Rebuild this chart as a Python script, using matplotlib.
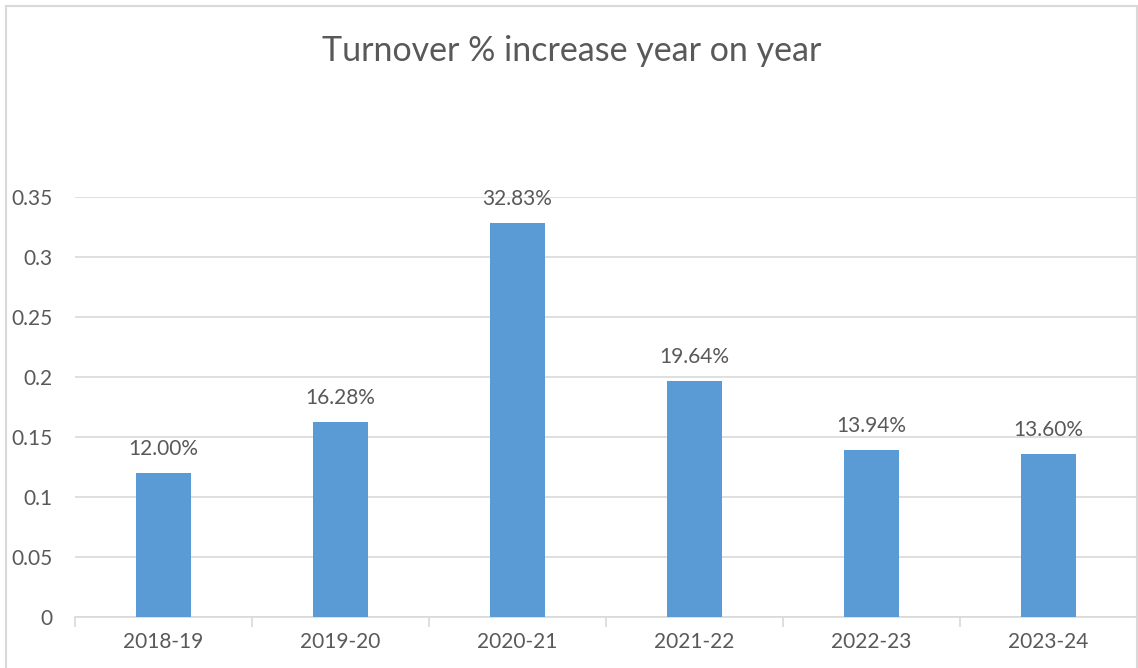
import matplotlib.pyplot as plt

years = ['2018-19', '2019-20', '2020-21', '2021-22', '2022-23', '2023-24']
increase = [0.1200, 0.1628, 0.3283, 0.1964, 0.1394, 0.1360]
yticks = [0, 0.05, 0.1, 0.15, 0.2, 0.25, 0.3, 0.35]
ytick_labels = ['0', '0.05', '0.1', '0.15', '0.2', '0.25', '0.3', '0.35']

plt.rcParams['font.family'] = ['Lato', 'DejaVu Sans']
text_col = '#595959'

fig = plt.figure(figsize=(11.38, 6.68), dpi=100)
ax = fig.add_axes([75 / 1138, 51 / 668, 1062 / 1138, 420 / 668])

x = range(len(years))
bars = ax.bar(x, increase, width=0.31, color='#5B9BD5', zorder=3)

# percentage labels above each bar
for xi, v in zip(x, increase):
    ax.annotate(f'{v:.2%}', (xi, v), xytext=(0, 10), textcoords='offset points',
                ha='center', va='bottom', fontsize=15, color=text_col)

ax.set_xlim(-0.5, len(years) - 0.5)
ax.set_ylim(0, 0.35)
ax.set_yticks(yticks)
ax.set_yticklabels(ytick_labels)
ax.set_xticks(x)
ax.set_xticklabels(years)
ax.set_xticks([i - 0.5 for i in range(len(years) + 1)], minor=True)

ax.grid(axis='y', color='#d9d9d9', linewidth=1.2, zorder=0)
for s in ['top', 'right', 'left']:
    ax.spines[s].set_visible(False)
ax.spines['bottom'].set_color('#d9d9d9')
ax.spines['bottom'].set_linewidth(1.2)

ax.tick_params(axis='y', length=0, pad=16, labelsize=15, labelcolor=text_col)
ax.tick_params(axis='x', which='major', length=0, pad=11, labelsize=15, labelcolor=text_col)
ax.tick_params(axis='x', which='minor', length=7, width=1.2, color='#d9d9d9')

fig.text(572 / 1138, 1 - 51 / 668, 'Turnover % increase year on year',
         ha='center', va='center', fontsize=24.5, color=text_col)

# chart border
fig.patches.append(plt.Rectangle((6 / 1138, -0.01), 1131 / 1138, 1 - 6 / 668 + 0.01,
                                 transform=fig.transFigure, fill=False,
                                 edgecolor='#d9d9d9', linewidth=1.5))

fig.savefig('out.png', dpi=100)
